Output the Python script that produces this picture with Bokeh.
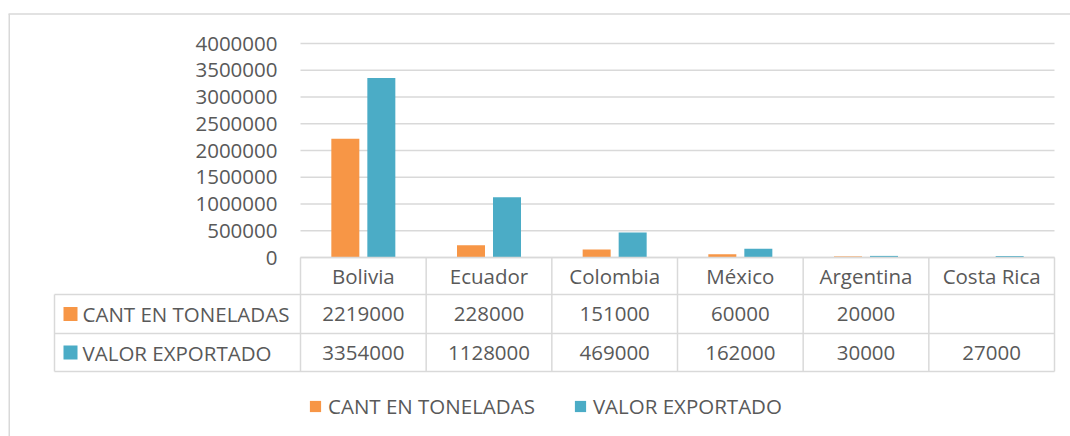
from bokeh.plotting import figure
from bokeh.models import ColumnDataSource, Range1d, Legend, LegendItem
from bokeh.transform import dodge
from bokeh.core.properties import value
from bokeh.embed import file_html
from bokeh.resources import INLINE

# ---------------- data ----------------
countries = ["Bolivia", "Ecuador", "Colombia", "México", "Argentina", "Costa Rica"]
cant_toneladas = [2219000, 228000, 151000, 60000, 20000, None]
valor_exportado = [3354000, 1128000, 469000, 162000, 30000, 27000]
series_names = ["CANT EN TONELADAS", "VALOR EXPORTADO"]
y_ticks = [0, 500000, 1000000, 1500000, 2000000, 2500000, 3000000, 3500000, 4000000]
y_tick_labels = [str(t) for t in y_ticks]

# ---------------- layout (pixel geometry) ----------------
W, H = 1070, 436
FONT = value("Open Sans")
FS = "20.5px"
TXT = "#595959"
LINE = "#d9d9d9"
ORANGE = "#F79646"
BLUE = "#4BACC6"

X0 = 300.0                 # canvas x of first category slot
PX = 754.0 / len(countries)  # pixels per category slot
BASE = 257.0               # canvas y (from top) of value 0
TOP = 43.0                 # canvas y of max tick
S = y_ticks[-1] / (BASE - TOP)  # data units per pixel


def fx(px):
    return (px - X0) / PX


def fy(py):
    return (BASE - py) * S


p = figure(width=W, height=H, output_backend="svg", toolbar_location=None,
           x_axis_location=None, y_axis_location=None,
           x_range=Range1d(fx(0), fx(W)), y_range=Range1d(fy(H), fy(0)),
           min_border=0, outline_line_color=None, background_fill_color="white",
           border_fill_color="white")
p.grid.visible = False

n = len(countries)
slot_left = fx(X0)
slot_right = fx(X0 + PX * n)

# outer chart border (left + top)
p.segment(x0=[fx(8.75), fx(8)], y0=[fy(13.5), fy(13.5)], x1=[fx(8.75), fx(W)], y1=[fy(H), fy(13.5)],
          line_color=LINE, line_width=1.5)

# gridlines
p.segment(x0=[slot_left] * len(y_ticks), x1=[slot_right] * len(y_ticks), y0=y_ticks, y1=y_ticks,
          line_color=LINE, line_width=1.5)

# y tick labels
p.text(x=[fx(277)] * len(y_ticks), y=y_ticks, text=y_tick_labels, text_font=FONT,
       text_font_size=FS, text_color=TXT, text_align="right", text_baseline="middle")

# bars
src = ColumnDataSource(dict(
    x=[i + 0.5 for i in range(n)],
    cant=[float("nan") if v is None else v for v in cant_toneladas],
    valor=valor_exportado,
))
bw = 28.0 / PX
r1 = p.vbar(x=dodge("x", -18.0 / PX, range=p.x_range), top="cant", bottom=0, width=bw,
            source=src, fill_color=ORANGE, line_color=None)
r2 = p.vbar(x=dodge("x", 18.0 / PX, range=p.x_range), top="valor", bottom=0, width=bw,
            source=src, fill_color=BLUE, line_color=None)

# ---------------- data table ----------------
rows_px = [BASE, BASE + 37, BASE + 76, BASE + 114]  # header top, row1 top, row2 top, bottom
tab_left = fx(54)
# horizontal lines
p.segment(x0=[slot_left, tab_left, tab_left, tab_left], x1=[slot_right] * 4,
          y0=[fy(r) for r in rows_px], y1=[fy(r) for r in rows_px],
          line_color=LINE, line_width=1.5)
# vertical lines
p.segment(x0=[i for i in range(n + 1)], x1=[i for i in range(n + 1)],
          y0=[fy(rows_px[0])] * (n + 1), y1=[fy(rows_px[3])] * (n + 1),
          line_color=LINE, line_width=1.5)
p.segment(x0=[tab_left], x1=[tab_left], y0=[fy(rows_px[1])], y1=[fy(rows_px[3])],
          line_color=LINE, line_width=1.5)

hdr_y = fy((rows_px[0] + rows_px[1]) / 2)
r1_y = fy((rows_px[1] + rows_px[2]) / 2)
r2_y = fy((rows_px[2] + rows_px[3]) / 2)

p.text(x=[i + 0.5 for i in range(n)], y=[hdr_y] * n, text=countries, text_font=FONT,
       text_font_size=FS, text_color=TXT, text_align="center", text_baseline="middle")
p.text(x=[i + 0.5 for i in range(n)], y=[r1_y] * n,
       text=["" if v is None else str(v) for v in cant_toneladas], text_font=FONT,
       text_font_size=FS, text_color=TXT, text_align="center", text_baseline="middle")
p.text(x=[i + 0.5 for i in range(n)], y=[r2_y] * n,
       text=[str(v) for v in valor_exportado], text_font=FONT,
       text_font_size=FS, text_color=TXT, text_align="center", text_baseline="middle")

# row legend keys + labels
p.scatter(x=[fx(70), fx(70)], y=[r1_y, r2_y], marker="square", size=14,
          fill_color=[ORANGE, BLUE], line_color=None)
p.text(x=[fx(82), fx(82)], y=[r1_y, r2_y], text=series_names, text_font=FONT,
       text_font_size=FS, text_color=TXT, text_align="left", text_baseline="middle")

# ---------------- bottom legend ----------------
legend = Legend(items=[LegendItem(label=series_names[0], renderers=[r1]),
                       LegendItem(label=series_names[1], renderers=[r2])],
                orientation="horizontal", location=(308, 16),
                glyph_width=14, glyph_height=14, label_standoff=6, spacing=38,
                padding=0, margin=0, border_line_color=None, background_fill_alpha=0,
                label_text_font="Open Sans", label_text_font_size=FS,
                label_text_color=TXT)
p.add_layout(legend, "center")

open("out.html", "w").write(file_html(p, INLINE))
